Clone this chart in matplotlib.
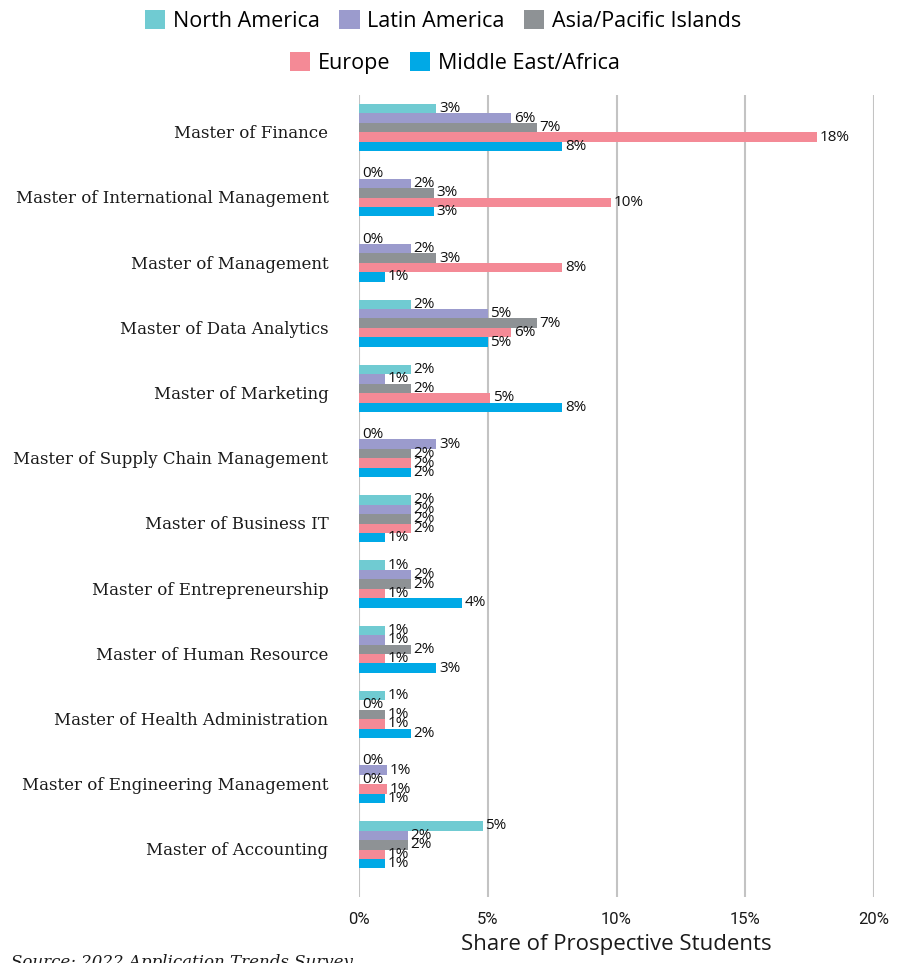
import matplotlib
matplotlib.use("Agg")
from matplotlib import pyplot as plt
from matplotlib.patches import Patch
from matplotlib.transforms import ScaledTranslation
import numpy as np

# categories, top to bottom
programs = ["Master of Finance", "Master of International Management",
            "Master of Management", "Master of Data Analytics",
            "Master of Marketing", "Master of Supply Chain Management",
            "Master of Business IT", "Master of Entrepreneurship",
            "Master of Human Resource", "Master of Health Administration",
            "Master of Engineering Management", "Master of Accounting"]

regions = ["North America", "Latin America", "Asia/Pacific Islands",
           "Europe", "Middle East/Africa"]

# share of prospective students (%)
north_america = [3.0, 0.0, 0.0, 2.0, 2.0, 0.0, 2.0, 1.0, 1.0, 1.0, 0.0, 4.8]
latin_america = [5.9, 2.0, 2.0, 5.0, 1.0, 3.0, 2.0, 2.0, 1.0, 0.0, 1.1, 1.9]
asia_pacific = [6.9, 2.9, 3.0, 6.9, 2.0, 2.0, 2.0, 2.0, 2.0, 1.0, 0.0, 1.9]
europe = [17.8, 9.8, 7.9, 5.9, 5.1, 2.0, 2.0, 1.0, 1.0, 1.0, 1.1, 1.0]
mideast_africa = [7.9, 2.9, 1.0, 5.0, 7.9, 2.0, 1.0, 4.0, 3.0, 2.0, 1.0, 1.0]

xticks = [0, 5, 10, 15, 20]

series = [north_america, latin_america, asia_pacific, europe, mideast_africa]
colors = ["#70CBD2", "#9B9BCD", "#8E9295", "#F48A96", "#00A9E6"]

fig = plt.figure(figsize=(9.06, 9.63), dpi=100)
ax = fig.add_axes([359/906, 1-897/963, 515/906, (897-95)/963])

y = np.arange(len(programs))
h = 0.145
for i, vals in enumerate(series):
    bars = ax.barh(y + (i-2)*h, vals, height=h, color=colors[i], zorder=3)
    ax.bar_label(bars, fmt="%.0f%%", padding=2, fontsize=11,
                 family="Open Sans", color="#111111", zorder=4)

ax.set_xlim(0, 20)
ax.set_ylim(11.8, -0.5)
ax.set_yticks(y)
ax.set_yticklabels(programs, family="DejaVu Serif", fontsize=12, color="#1a1a1a")
ax.set_xticks(xticks)
ax.set_xticklabels([f"{t}%" for t in xticks], family="Roboto", fontsize=12, color="#1a1a1a")
ax.tick_params(axis="both", length=0)
ax.tick_params(axis="x", pad=11)
ax.tick_params(axis="y", pad=22)
# category labels sit a little below the group centre
shift = ScaledTranslation(0, -4/100, fig.dpi_scale_trans)
for lab in ax.get_yticklabels():
    lab.set_transform(lab.get_transform() + shift)
ax.grid(axis="x", color="#C3C3C3", linewidth=1.5, zorder=0)
ax.grid(axis="y", visible=False)
for s in ax.spines.values():
    s.set_visible(False)

ax.set_xlabel("Share of Prospective Students", family="Open Sans", fontsize=16,
              color="#1a1a1a", labelpad=5)

# legend in two centered rows
handles = [Patch(facecolor=c, edgecolor="none") for c in colors]
legend_font = {"family": "Open Sans", "size": 15.5}
fig.legend(handles[:3], regions[:3], ncol=3, loc="center",
           bbox_to_anchor=(0.489, 1-21/963), frameon=False,
           prop=legend_font, handlelength=0.95,
           handleheight=0.95, handletextpad=0.35, columnspacing=0.9)
fig.legend(handles[3:], regions[3:], ncol=2, loc="center",
           bbox_to_anchor=(0.502, 1-63/963), frameon=False,
           prop=legend_font, handlelength=0.95,
           handleheight=0.95, handletextpad=0.35, columnspacing=0.9)

fig.text(0.012, 1-954/963, "Source: 2022 Application Trends Survey",
         family="DejaVu Serif", style="italic", fontsize=12, va="top",
         color="#1a1a1a")

fig.savefig("out.png", dpi=100)
